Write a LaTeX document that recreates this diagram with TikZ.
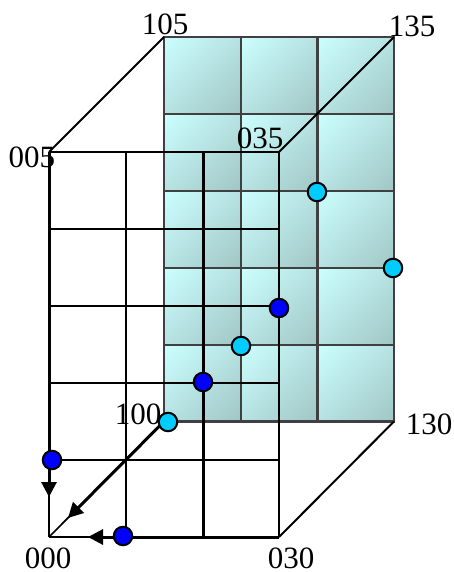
\documentclass[tikz,border=0pt]{standalone}
\usepackage{fontspec}
\setmainfont{Liberation Serif}
\usetikzlibrary{arrows.meta,shadings}
\definecolor{celllight}{HTML}{CCFFFF}
\definecolor{celldark}{HTML}{A0C6C4}
\definecolor{cellmid}{HTML}{B6E2E2}
\definecolor{dotcyan}{HTML}{00CCFF}
\definecolor{dotblue}{HTML}{0000FF}
\definecolor{gridgray}{HTML}{404040}
\tikzset{
  x=1pt,y=-1pt,
  lab/.style={inner sep=0pt,font=\fontsize{31}{31}\selectfont,text=black},
  backline/.style={draw=gridgray,line width=2.1pt},
  frontline/.style={draw=black,line width=2pt},
  thickline/.style={draw=black,line width=3pt},
  thinline/.style={draw=black,line width=1.7pt},
  dot/.style={circle,draw=black,line width=2pt,minimum size=18.5pt,inner sep=0pt},
  cyandot/.style={dot,fill=dotcyan},
  bluedot/.style={dot,fill=dotblue},
  tip/.style={-{Triangle[length=15pt,width=15pt]}},
}
\begin{document}
\begin{tikzpicture}
\useasboundingbox (0,0) rectangle (454,572);
% back face cells
\foreach \cx/\cxx in {164/241,241/317.5,317.5/394}{
  \foreach \cy/\cyy in {37/114,114/191,191/268,268/345,345/421.5}{
    \shade[upper left=celllight,lower right=celldark,upper right=cellmid,lower left=cellmid] (\cx,\cy) rectangle (\cxx,\cyy);
  }
}
% corners
\coordinate (c000) at (49,537);
\coordinate (c030) at (279,537);
\coordinate (c005) at (49,152);
\coordinate (c035) at (279,152);
\coordinate (c100) at (164,421.5);
\coordinate (c130) at (394,421.5);
\coordinate (c105) at (164,37);
\coordinate (c135) at (394,37);
% back grid
\foreach \gx in {241,317.5}{
  \coordinate (bt) at (\gx,37); \coordinate (bb) at (\gx,421.5);
  \draw[backline] (bt) -- (bb);
}
\foreach \gy in {114,191,268,345}{
  \coordinate (bl) at (164,\gy); \coordinate (br) at (394,\gy);
  \draw[backline] (bl) -- (br);
}
\draw[backline] (c105) -- (c135) -- (c130) -- (c100) -- cycle;
% front grid
\coordinate (t1) at (126,152); \coordinate (b1) at (126,537);
\coordinate (t2) at (203,152); \coordinate (b2) at (203,537);
\draw[frontline] (t1) -- (b1);
\draw[thickline] (t2) -- (b2);
\foreach \gy in {229,306,383,460}{
  \coordinate (l) at (49,\gy); \coordinate (r) at (279,\gy);
  \draw[frontline] (l) -- (r);
}
\draw[frontline] (c005) -- (c035) -- (c030);
% depth edges
\draw[frontline] (c005) -- (c105);
\draw[frontline] (c035) -- (c135);
\draw[frontline] (c030) -- (c130);
% thin ends
\draw[thinline] (c000) -- (c030);
\draw[thinline] (c000) -- (c005);
\draw[thinline] (c000) -- (c100);
% thick lines with arrows
\coordinate (a1) at (49,497);
\coordinate (a2) at (88,537);
\coordinate (a3) at (68,518);
\draw[thickline,tip] (c005) -- (a1);
\draw[thickline,tip] (c030) -- (a2);
\draw[thickline,tip] (c100) -- (a3);
% dots
\node[cyandot] (d1) at (168,422) {};
\node[cyandot] (d2) at (241,346) {};
\node[cyandot] (d3) at (317,192) {};
\node[cyandot] (d4) at (393,268) {};
\node[bluedot] (d5) at (52,460) {};
\node[bluedot] (d6) at (123,536) {};
\node[bluedot] (d7) at (203,382) {};
\node[bluedot] (d8) at (279,308) {};
% labels
\node[lab] (n105) at (165,24) {105};
\node[lab] (n135) at (412,26) {135};
\node[lab] (n005) at (32,157) {005};
\node[lab] (n035) at (260,138) {035};
\node[lab] (n100) at (138,414) {100};
\node[lab] (n130) at (429,424) {130};
\node[lab] (n000) at (48,558) {000};
\node[lab] (n030) at (291,558) {030};
\end{tikzpicture}
\end{document}
